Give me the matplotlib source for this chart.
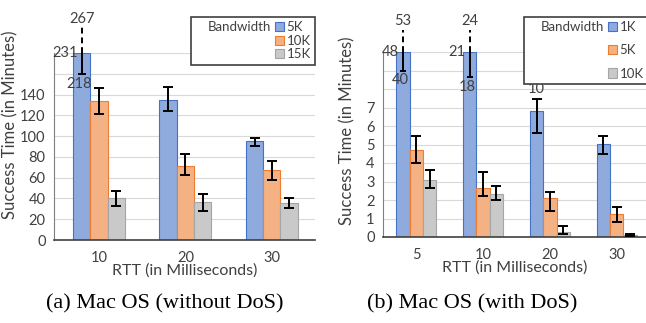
import matplotlib
matplotlib.use('Agg')
import matplotlib.pyplot as plt
import numpy as np
from matplotlib.patches import Rectangle

plt.rcParams['font.family'] = ['Lato', 'DejaVu Sans']

# (a) Mac OS without DoS
rtt_a = ['10', '20', '30']
bw_a = ['5K', '10K', '15K']
mean_a = [[231, 135, 95], [134, 71, 67], [40, 37, 36]]
low_a = [[218, 124, 90], [121, 63, 58], [33, 28, 31]]
high_a = [[267, 147, 98], [146, 83, 76], [47, 44, 40]]
top_a = 180          # axis is cut here
shown_low_a = 160    # where the cut bar's lower whisker is drawn

# (b) Mac OS with DoS
rtt_b = ['5', '10', '20', '30']
bw_b = ['1K', '5K', '10K']
mean_b = [[48, 21, 6.8, 5.05], [4.7, 2.66, 2.12, 1.24], [3.08, 2.32, 0.25, 0.12]]
low_b = [[40, 18, 5.6, 4.5], [4.02, 2.2, 1.42, 0.8], [2.67, 2.0, 0.18, 0.08]]
high_b = [[53, 24, 7.45, 5.45], [5.46, 3.5, 2.45, 1.6], [3.62, 2.76, 0.6, 0.16]]
top_b = 10
shown_low_b = [9.0, 8.65]
extra_b = ['10']   # label above the 20 ms 1K bar

fills = ['#8faadc', '#f4b183', '#c9c9c9']
edges = ['#4472c4', '#ed7d31', '#a5a5a5']
txt = '#404040'
fs = 10.5


def draw(ax, rtt, bw, mean, low, high, top, shown_low, ystep, ymax_label, ext):
    x = np.arange(len(rtt))
    w = 0.2
    handles = []
    k = 0
    for i in range(len(bw)):
        xs = x + (i - 1) * w
        m = np.array(mean[i], dtype=float)
        lo = np.array(low[i], dtype=float)
        hi = np.array(high[i], dtype=float)
        h = np.minimum(m, top)
        b = ax.bar(xs, h, w, color=fills[i], edgecolor=edges[i], linewidth=0.8, zorder=2)
        handles.append(b)
        for j in range(len(rtt)):
            if m[j] > top:
                sl = shown_low[k] if isinstance(shown_low, list) else shown_low
                k += 1
                ax.vlines(xs[j], sl, top, color='black', lw=1.4, zorder=3)
                ax.hlines(sl, xs[j] - 0.045, xs[j] + 0.045, color='black', lw=1.4, zorder=3)
                ax.plot([xs[j], xs[j]], [top, top + ext], color='black', lw=1.4,
                        ls=(0, (3, 2)), clip_on=False, zorder=3)
                ax.annotate('%g' % m[j], (xs[j], top), xytext=(-3, 0), textcoords='offset points',
                            ha='right', va='center', fontsize=fs, color=txt, annotation_clip=False)
                ax.annotate('%g' % lo[j], (xs[j], sl), xytext=(-2, -2), textcoords='offset points',
                            ha='center', va='top', fontsize=fs, color=txt, annotation_clip=False)
                ax.annotate('%g' % hi[j], (xs[j], top + ext), xytext=(0, 1), textcoords='offset points',
                            ha='center', va='bottom', fontsize=fs, color=txt, annotation_clip=False)
            else:
                ax.errorbar(xs[j], m[j], yerr=[[m[j] - lo[j]], [hi[j] - m[j]]], fmt='none',
                            ecolor='black', elinewidth=1.4, capsize=3.5, capthick=1.4, zorder=3)
    ax.set_ylim(0, top)
    ax.set_yticks(np.arange(0, top + ystep / 2, ystep))
    ax.set_yticklabels(['%g' % v if v <= ymax_label else '' for v in np.arange(0, top + ystep / 2, ystep)])
    ax.set_xticks(x)
    ax.set_xticklabels(rtt)
    ax.grid(axis='y', color='#d9d9d9', lw=0.8, zorder=0)
    ax.set_axisbelow(True)
    ax.tick_params(length=0, labelsize=fs, labelcolor=txt)
    ax.tick_params(axis='x', pad=8)
    ax.tick_params(axis='y', pad=6)
    for s in ['top', 'right']:
        ax.spines[s].set_visible(False)
    ax.spines['left'].set_color('#7f7f7f')
    ax.spines['bottom'].set_color('#404040')
    ax.spines['bottom'].set_linewidth(1.2)
    ax.set_xlabel('RTT (in Milliseconds)', fontsize=11.5, color=txt, labelpad=-1)
    ax.set_ylabel('Success Time (in Minutes)', fontsize=12, color=txt)
    return handles


fig = plt.figure(figsize=(6.46, 3.23), dpi=100)
axa = fig.add_axes([54 / 646, 83 / 323, 261 / 646, 187 / 323])
axb = fig.add_axes([383 / 646, 86 / 323, 263 / 646, 185 / 323])

ha = draw(axa, rtt_a, bw_a, mean_a, low_a, high_a, top_a, shown_low_a, 20, 140, 25)
axa.set_xlim(-0.52, 2.5)
hb = draw(axb, rtt_b, bw_b, mean_b, low_b, high_b, top_b, shown_low_b, 1, 7, 1.2)
axb.set_xlim(-0.5, 3.44)
axb.annotate(extra_b[0], (2 - 0.2, high_b[0][2]), xytext=(0, 2), textcoords='offset points',
             ha='center', va='bottom', fontsize=fs, color=txt)

axa.yaxis.set_label_coords(-0.138, 0.615)
axb.yaxis.set_label_coords(-0.105, 0.573)

blank = Rectangle((0, 0), 1, 1, alpha=0)
for ax, hs, labels, anchor, sp in [(axa, ha, bw_a, (322 / 646, 1 - 10 / 323), 0.12),
                                   (axb, hb, bw_b, (655 / 646, 1 - 10 / 323), 0.85)]:
    leg = ax.legend([blank, blank, blank] + hs, ['Bandwidth', '', ''] + labels, ncol=2,
                    loc='upper right', bbox_to_anchor=anchor, bbox_transform=fig.transFigure,
                    fontsize=9.5, handlelength=0.7, handleheight=0.7, handletextpad=0.2,
                    columnspacing=0.3, labelspacing=sp, borderpad=0.35, fancybox=False,
                    edgecolor='#404040', framealpha=1)
    leg.get_frame().set_linewidth(1.2)
    for t in leg.get_texts():
        t.set_color(txt)

fig.text(165 / 646, 1 - 304 / 323, '(a) Mac OS (without DoS)', ha='center', va='center',
         family='Liberation Serif', fontsize=16)
fig.text(472 / 646, 1 - 304 / 323, '(b) Mac OS (with DoS)', ha='center', va='center',
         family='Liberation Serif', fontsize=16)

fig.savefig('out.png', dpi=100)
